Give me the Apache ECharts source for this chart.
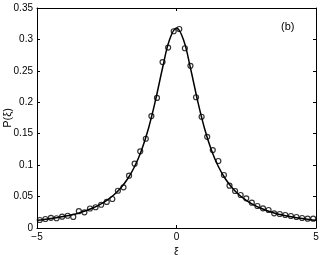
<!DOCTYPE html>
<html><head><meta charset="utf-8">
<script src="https://cdn.jsdelivr.net/npm/echarts@6/dist/echarts.min.js"></script>
<style>html,body{margin:0;padding:0;background:#fff}#c{width:322px;height:255px}</style>
</head><body><div id="c"></div>
<script>
// Fitted curve (solid line)
const lineX = [-5,-4.75,-4.5,-4.25,-4,-3.75,-3.5,-3.25,-3,-2.75,-2.5,-2.25,-2,-1.75,-1.5,-1.25,-1,-0.75,-0.5,-0.25,0,0.25,0.5,0.75,1,1.25,1.5,1.75,2,2.25,2.5,2.75,3,3.25,3.5,3.75,4,4.25,4.5,4.75,5];
const lineY = [0.0122,0.0135,0.0150,0.0167,0.0187,0.0211,0.0240,0.0275,0.0318,0.0372,0.0439,0.0525,0.0637,0.0784,0.0979,0.1242,0.1592,0.2037,0.2546,0.2996,0.3183,0.2996,0.2546,0.2037,0.1592,0.1242,0.0979,0.0784,0.0637,0.0525,0.0439,0.0372,0.0318,0.0275,0.0240,0.0211,0.0187,0.0167,0.0150,0.0135,0.0122];
// Measured points (open circles)
const ptX = [-4.9,-4.7,-4.5,-4.3,-4.1,-3.9,-3.7,-3.5,-3.3,-3.1,-2.9,-2.7,-2.5,-2.3,-2.1,-1.9,-1.7,-1.5,-1.3,-1.1,-0.9,-0.7,-0.5,-0.3,-0.1,0.1,0.3,0.5,0.7,0.9,1.1,1.3,1.5,1.7,1.9,2.1,2.3,2.5,2.7,2.9,3.1,3.3,3.5,3.7,3.9,4.1,4.3,4.5,4.7,4.9];
const ptY = [0.0127,0.0143,0.0162,0.0155,0.0180,0.0195,0.0176,0.0268,0.0250,0.0310,0.0330,0.0370,0.0415,0.0461,0.0593,0.0647,0.0832,0.1023,0.1220,0.1420,0.1780,0.2070,0.2640,0.2870,0.3130,0.3166,0.2860,0.2580,0.2080,0.1770,0.1450,0.1240,0.1066,0.0843,0.0673,0.0589,0.0525,0.0472,0.0403,0.0350,0.0313,0.0286,0.0234,0.0223,0.0207,0.0191,0.0175,0.0159,0.0148,0.0148];
const xTicks = [-5, 0, 5];
const yTicks = [0,0.05,0.1,0.15,0.2,0.25,0.3,0.35];
const xName = 'ξ', yName = 'P(ξ)', panelLabel = '(b)';

const font = 'Liberation Sans, Arial, sans-serif';
const axLine = {show:true, onZero:false, lineStyle:{color:'#000', width:1}};
const chart = echarts.init(document.getElementById('c'), null, {renderer:'canvas'});
chart.setOption({
  animation:false,
  grid:{left:37, right:6, top:8, bottom:27, containLabel:false, outerBoundsMode:'none'},
  xAxis:[{
    type:'value', min:-5, max:5, interval:5, position:'bottom',
    name:xName, nameLocation:'middle', nameGap:18, nameMoveOverlap:false,
    nameTextStyle:{fontFamily:font, fontSize:11, color:'#000'},
    axisLine:axLine, splitLine:{show:false},
    axisTick:{inside:true, length:3, lineStyle:{color:'#000'}},
    axisLabel:{fontFamily:font, fontSize:10, color:'#000', margin:4,
      formatter:v=>xTicks.includes(v)?String(v).replace('-','\u2212'):''}
  },{
    type:'value', min:-5, max:5, interval:5, position:'top',
    axisLine:axLine, splitLine:{show:false},
    axisTick:{inside:true, length:3, lineStyle:{color:'#000'}},
    axisLabel:{show:false}
  }],
  yAxis:[{
    type:'value', min:0, max:0.35, interval:0.05, position:'left',
    name:yName, nameLocation:'middle', nameGap:24, nameRotate:90, nameMoveOverlap:false,
    nameTextStyle:{fontFamily:font, fontSize:11, color:'#000'},
    axisLine:axLine, splitLine:{show:false},
    axisTick:{inside:true, length:3, lineStyle:{color:'#000'}},
    axisLabel:{fontFamily:font, fontSize:10, color:'#000', margin:4,
      formatter:v=>{const t=yTicks.find(a=>Math.abs(a-v)<1e-9);return t===undefined?'':String(t);}}
  },{
    type:'value', min:0, max:0.35, interval:0.05, position:'right',
    axisLine:axLine, splitLine:{show:false},
    axisTick:{inside:true, length:3, lineStyle:{color:'#000'}},
    axisLabel:{show:false}
  }],
  graphic:[{type:'text', left:281, top:21, style:{text:panelLabel, font:'11px '+font, fill:'#000'}}],
  series:[{
    type:'line', xAxisIndex:0, yAxisIndex:0,
    data:lineX.map((x,i)=>[x,lineY[i]]), smooth:0.4, showSymbol:false,
    lineStyle:{color:'#000', width:1.5}, z:2
  },{
    type:'scatter', xAxisIndex:0, yAxisIndex:0,
    data:ptX.map((x,i)=>[x,ptY[i]]), symbol:'circle', symbolSize:5,
    itemStyle:{color:'rgba(255,255,255,0)', borderColor:'#000', borderWidth:1.2}, z:3
  }]
});
</script></body></html>
